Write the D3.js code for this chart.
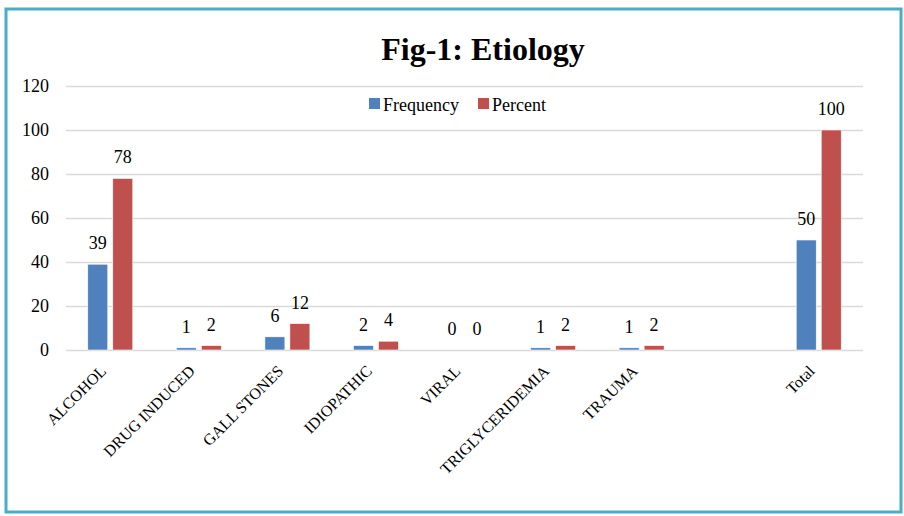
<!DOCTYPE html>
<html>
<head>
<meta charset="utf-8">
<script src="https://cdn.jsdelivr.net/npm/d3@7/dist/d3.min.js"></script>
<style>
  html, body { margin: 0; padding: 0; background: #fff; }
  svg { display: block; }
</style>
</head>
<body>
<svg id="chart" width="904" height="516"></svg>
<script>
const categories = ["ALCOHOL", "DRUG INDUCED", "GALL STONES", "IDIOPATHIC", "VIRAL", "TRIGLYCERIDEMIA", "TRAUMA", "", "Total"];
const frequency = [39, 1, 6, 2, 0, 1, 1, null, 50];
const percent = [78, 2, 12, 4, 0, 2, 2, null, 100];
const seriesNames = ["Frequency", "Percent"];
const seriesColors = ["#4F81BD", "#C0504D"];
const yTicks = [0, 20, 40, 60, 80, 100, 120];
const titleText = "Fig-1: Etiology";

const FONT = "'Liberation Serif', 'Times New Roman', Times, serif";
const svg = d3.select("#chart");
const plot = { left: 66, right: 863, top: 86, bottom: 350 };

// frame
svg.append("rect")
  .attr("x", 6).attr("y", 9).attr("width", 895).attr("height", 503)
  .attr("fill", "#fff").attr("stroke", "#4BACC6").attr("stroke-width", 3);

const x = d3.scaleBand().domain(d3.range(categories.length)).range([plot.left, plot.right]).padding(0);
const y = d3.scaleLinear().domain([0, 120]).range([plot.bottom, plot.top]);

// gridlines + y axis
const yAxis = d3.axisLeft(y).tickValues(yTicks).tickSize(-(plot.right - plot.left)).tickPadding(17);
const gy = svg.append("g").attr("transform", `translate(${plot.left},0)`).call(yAxis);
gy.select(".domain").remove();
gy.selectAll(".tick line").attr("stroke", "#D9D9D9").attr("stroke-width", 1.3);
gy.selectAll(".tick text").style("font-size", "18px").style("font-family", FONT).attr("fill", "#000");

// bars
const barW = 20, gap = 5;
const series = [frequency, percent];
series.forEach((vals, si) => {
  const off = si === 0 ? -(gap / 2 + barW) : gap / 2;
  const g = svg.append("g");
  vals.forEach((v, i) => {
    if (v === null) return;
    const cx = x(i) + x.bandwidth() / 2;
    if (v > 0) {
      g.append("rect")
        .attr("x", cx + off).attr("y", y(v))
        .attr("width", barW).attr("height", y(0) - y(v))
        .attr("fill", seriesColors[si])
        .attr("stroke", "#fff").attr("stroke-width", 0.6);
    }
    g.append("text")
      .attr("x", cx + off + barW / 2).attr("y", y(v) - 15)
      .attr("text-anchor", "middle")
      .style("font-size", "18px").style("font-family", FONT).attr("fill", "#000")
      .text(v);
  });
});

// x labels
const xl = svg.append("g");
categories.forEach((c, i) => {
  if (!c) return;
  const cx = x(i) + x.bandwidth() / 2;
  xl.append("text")
    .attr("transform", `translate(${cx - 3},${372}) rotate(-45)`)
    .attr("text-anchor", "end")
    .style("font-size", "16px").style("font-family", FONT).attr("fill", "#000")
    .text(c);
});

// title
svg.append("text")
  .attr("x", 483).attr("y", 60).attr("text-anchor", "middle")
  .style("font-size", "32px").style("font-weight", "bold").style("font-family", FONT).attr("fill", "#000")
  .text(titleText);

// legend
const leg = svg.append("g");
const legX = [369, 478];
seriesNames.forEach((n, i) => {
  leg.append("rect").attr("x", legX[i]).attr("y", 98).attr("width", 11).attr("height", 11).attr("fill", seriesColors[i]);
  leg.append("text").attr("x", legX[i] + 14).attr("y", 111)
    .style("font-size", "18px").style("font-family", FONT).attr("fill", "#000")
    .text(n);
});
</script>
</body>
</html>
